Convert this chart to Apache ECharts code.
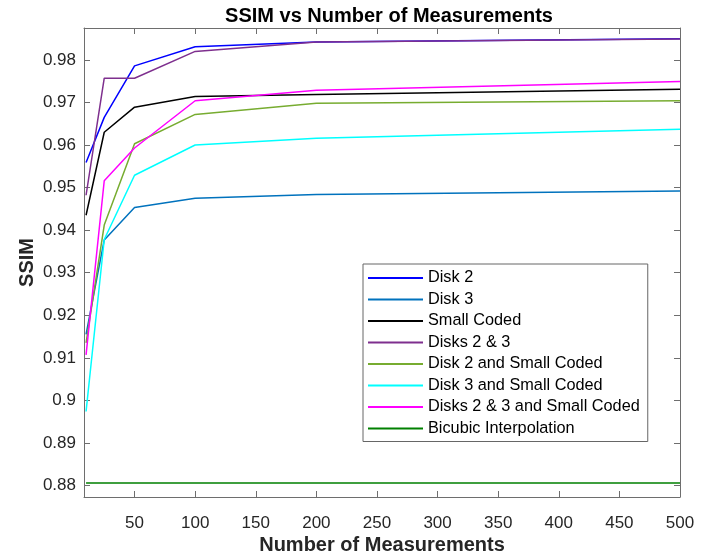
<!DOCTYPE html>
<html>
<head>
<meta charset="utf-8">
<script src="https://cdn.jsdelivr.net/npm/echarts@6/dist/echarts.min.js"></script>
<style>html,body{margin:0;padding:0;background:#fff}#c{width:720px;height:554px}</style>
</head>
<body>
<div id="c"></div>
<script>
const measurements = [10, 25, 50, 100, 200, 500];
const disk2 = [0.9559, 0.9665, 0.9786, 0.9831, 0.9842, 0.9850];
const disk3 = [0.9155, 0.9377, 0.9453, 0.9475, 0.9484, 0.9492];
const smallCoded = [0.9435, 0.9630, 0.9689, 0.9714, 0.9719, 0.9731];
const disks23 = [0.9482, 0.9757, 0.9757, 0.9820, 0.9842, 0.9849];
const disk2SC = [0.9135, 0.9412, 0.9603, 0.9672, 0.9698, 0.9704];
const disk3SC = [0.8974, 0.9378, 0.9529, 0.9600, 0.9616, 0.9637];
const disks23SC = [0.9107, 0.9516, 0.9593, 0.9704, 0.9729, 0.9749];
const bicubic = [0.8806, 0.8806, 0.8806, 0.8806, 0.8806, 0.8806];

const xTicks = [50, 100, 150, 200, 250, 300, 350, 400, 450, 500];
const yTicks = [0.88, 0.89, 0.90, 0.91, 0.92, 0.93, 0.94, 0.95, 0.96, 0.97, 0.98];

const seriesNames = ['Disk 2', 'Disk 3', 'Small Coded', 'Disks 2 & 3', 'Disk 2 and Small Coded', 'Disk 3 and Small Coded', 'Disks 2 & 3 and Small Coded', 'Bicubic Interpolation'];
const seriesValues = [disk2, disk3, smallCoded, disks23, disk2SC, disk3SC, disks23SC, bicubic];
const seriesColors = ['#0000FF', '#0072BD', '#000000', '#7E2F8E', '#77AC30', '#00FFFF', '#FF00FF', '#008000'];

const FONT = "'Liberation Sans', Arial, Helvetica, sans-serif";
const AX = '#6e6e6e';
const X_MIN = 8.3, X_MAX = 500, Y_MIN = 0.8773, Y_MAX = 0.9875;

const chart = echarts.init(document.getElementById('c'), null, {renderer: 'canvas'});

function xAxisDef(pos, showLabel, extra) {
  return Object.assign({
    type: 'value', position: pos, min: X_MIN, max: X_MAX,
    axisLine: {show: true, onZero: false, lineStyle: {color: AX, width: 1}},
    axisTick: {show: true, inside: true, length: 6, customValues: xTicks, lineStyle: {color: AX}},
    axisLabel: {show: showLabel, customValues: xTicks, color: '#262626', fontSize: 17, fontFamily: FONT, margin: 18},
    splitLine: {show: false}
  }, extra || {});
}
function yAxisDef(pos, showLabel, extra) {
  return Object.assign({
    type: 'value', position: pos, min: Y_MIN, max: Y_MAX,
    axisLine: {show: true, onZero: false, lineStyle: {color: AX, width: 1}},
    axisTick: {show: true, inside: true, length: 6, customValues: yTicks, lineStyle: {color: AX}},
    axisLabel: {show: showLabel, customValues: yTicks, color: '#262626', fontSize: 17, fontFamily: FONT, margin: 8,
      formatter: v => String(+(+v).toFixed(2))},
    splitLine: {show: false}
  }, extra || {});
}

chart.setOption({
  animation: false,
  backgroundColor: '#fff',
  title: {
    text: 'SSIM vs Number of Measurements',
    left: 384, top: 1, textAlign: 'center',
    textStyle: {fontSize: 20, fontWeight: 'bold', color: '#000', fontFamily: FONT}
  },
  grid: {left: 84, right: 40, top: 28, bottom: 57, containLabel: false, outerBoundsMode: 'none'},
  xAxis: [
    xAxisDef('bottom', true, {
      name: 'Number of Measurements', nameLocation: 'middle', nameGap: 38, nameMoveOverlap: false,
      nameTextStyle: {fontSize: 20, fontWeight: 'bold', color: '#262626', fontFamily: FONT}
    }),
    xAxisDef('top', false)
  ],
  yAxis: [
    yAxisDef('left', true, {
      name: 'SSIM', nameLocation: 'middle', nameGap: 47, nameMoveOverlap: false,
      nameTextStyle: {fontSize: 20, fontWeight: 'bold', color: '#262626', fontFamily: FONT}
    }),
    yAxisDef('right', false)
  ],
  legend: {
    orient: 'vertical', left: 363, top: 264,
    icon: 'rect', itemWidth: 55, itemHeight: 2, itemGap: 5.5,
    padding: [6, 8, 5, 5],
    backgroundColor: '#fff', borderColor: '#666', borderWidth: 1,
    textStyle: {fontSize: 16.3, color: '#000', fontFamily: FONT, lineHeight: 16},
    data: seriesNames
  },
  series: seriesNames.map((name, i) => ({
    name: name, type: 'line', xAxisIndex: 0, yAxisIndex: 0,
    data: measurements.map((m, j) => [m, seriesValues[i][j]]),
    symbol: 'none', showSymbol: false,
    lineStyle: {color: seriesColors[i], width: 1.5},
    itemStyle: {color: seriesColors[i]},
    emphasis: {disabled: true}
  }))
});
</script>
</body>
</html>
